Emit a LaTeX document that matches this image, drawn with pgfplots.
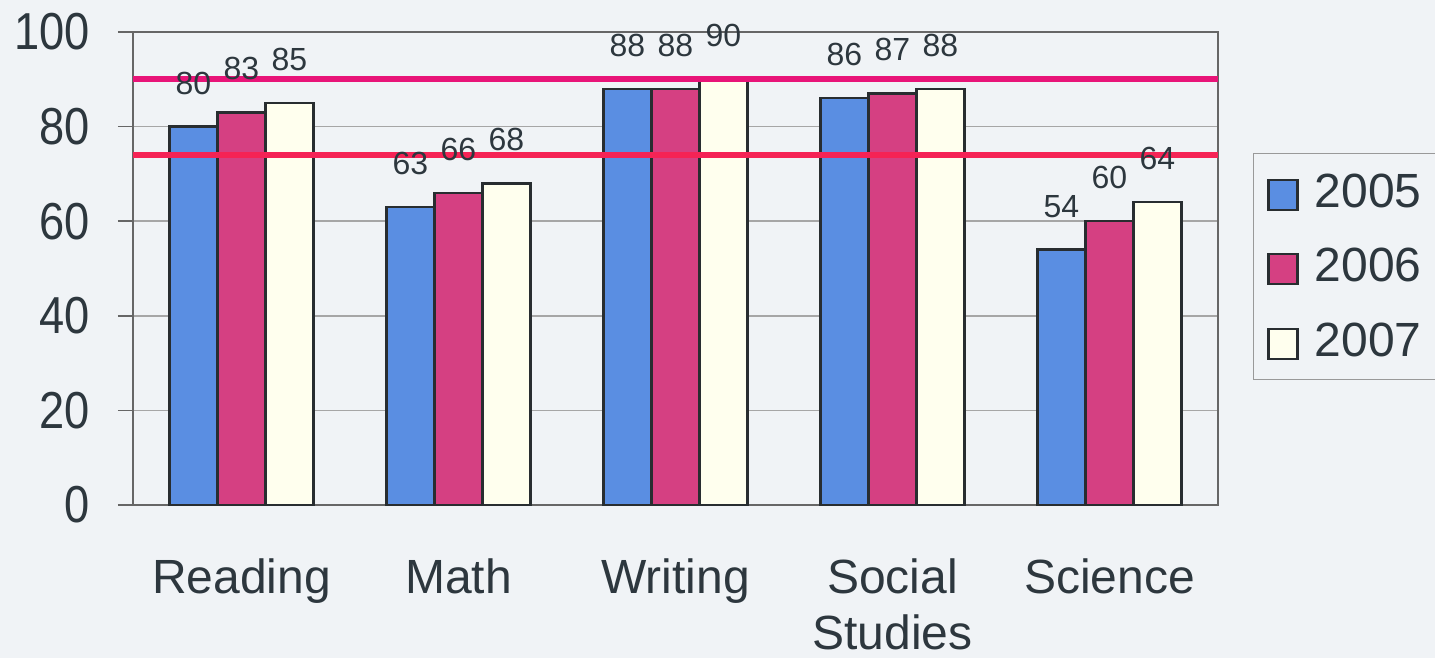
\documentclass[border=0pt]{standalone}
\usepackage{pgfplots}
\pgfplotsset{compat=1.18}
\usepackage{fontspec}
\setmainfont{Liberation Sans}
\newfontfamily\narrowsans{Liberation Sans}[FakeStretch=0.87]

\definecolor{bg}{RGB}{240,243,246}
\definecolor{txt}{RGB}{45,55,62}
\definecolor{c2005}{RGB}{90,142,226}
\definecolor{c2006}{RGB}{213,64,130}
\definecolor{c2007}{RGB}{255,255,238}
\definecolor{edge}{RGB}{40,45,48}
\definecolor{lineA}{RGB}{232,20,120}
\definecolor{lineB}{RGB}{245,35,85}

% scores per subject: Reading, Math, Writing, Social Studies, Science
\pgfplotstableread{
x y2005 y2006 y2007
0 80 83 85
1 63 66 68
2 88 88 90
3 86 87 88
4 54 60 64
}\scores

\begin{document}
\begin{tikzpicture}
\path[use as bounding box, fill=bg] (-66.5pt,-76.5pt) rectangle (651pt,252.5pt);
\begin{axis}[
    at={(0,0)}, anchor=south west,
    scale only axis,
    width=542.5pt, height=236.5pt,
    xmin=-0.5, xmax=4.5,
    ymin=0, ymax=100,
    xtick={0,1,2,3,4},
    xticklabels={Reading, Math, Writing, {Social\\Studies}, Science},
    minor xtick={-0.5,0.5,1.5,2.5,3.5,4.5},
    ytick={0,20,40,60,80,100},
    tick pos=left,
    tick align=outside,
    major tick length=7.5pt,
    minor tick length=7.5pt,
    xtick style={draw=none},
    minor tick style={draw=gray!80!black, line width=0.8pt},
    ytick style={draw=gray!80!black, line width=0.8pt},
    ymajorgrids,
    grid style={gray!70, line width=0.8pt},
    axis line style={draw=gray!80!black, line width=0.8pt},
    /pgf/number format/assume math mode=true,
    yticklabel style={font=\narrowsans\fontsize{26}{30}\selectfont, text=txt, inner sep=0pt, xshift=-14pt},
    xticklabel style={font=\fontsize{24}{28}\selectfont, text=txt, align=center, inner sep=0pt, anchor=north, yshift=-19pt},
    legend style={
        at={(1.0323,0.744)}, anchor=north west,
        draw=gray!80, fill=bg,
        font=\fontsize{24}{28}\selectfont, text=txt,
        inner xsep=7pt, inner ysep=9pt,
        row sep=17pt, column sep=7pt,
        nodes={inner sep=1pt},
    },
    legend cell align=left,
    legend image code/.code={\draw[#1, line width=1.2pt] (0pt,-9pt) rectangle (14.5pt,6pt);},
    every node near coord/.append style={font=\fontsize{16}{18}\selectfont, text=txt, inner sep=0pt, anchor=south, yshift=15.5pt},
]
\addplot[ybar, bar width=24pt, bar shift=-24pt, fill=c2005, draw=edge, line width=1.2pt,
    nodes near coords, every node near coord/.append style={xshift=-24pt}] table[x=x, y=y2005] {\scores};
\addlegendentry{2005}
\addplot[ybar, bar width=24pt, bar shift=0pt, fill=c2006, draw=edge, line width=1.2pt,
    nodes near coords] table[x=x, y=y2006] {\scores};
\addlegendentry{2006}
\addplot[ybar, bar width=24pt, bar shift=24pt, fill=c2007, draw=edge, line width=1.2pt,
    nodes near coords, every node near coord/.append style={xshift=24pt}] table[x=x, y=y2007] {\scores};
\addlegendentry{2007}

% target lines
\addplot[sharp plot, lineA, line width=3pt, forget plot] coordinates {(-0.5,90) (4.5,90)};
\addplot[sharp plot, lineB, line width=3pt, forget plot] coordinates {(-0.5,74) (4.5,74)};
\end{axis}
\end{tikzpicture}
\end{document}
